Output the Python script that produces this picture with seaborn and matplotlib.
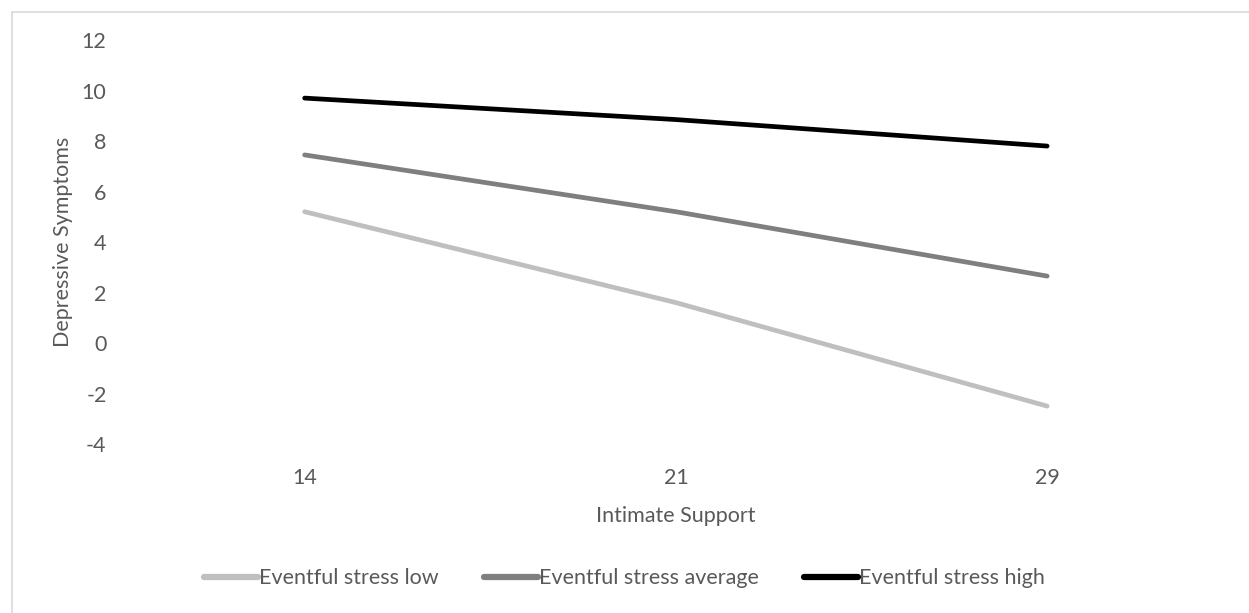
import matplotlib.pyplot as plt
import matplotlib.lines as mlines
import seaborn as sns
import pandas as pd

# Values
support = ['14', '21', '29']
stress_low = [5.2, 1.6, -2.5]
stress_average = [7.45, 5.2, 2.65]
stress_high = [9.7, 8.85, 7.8]
series_names = ['Eventful stress low', 'Eventful stress average', 'Eventful stress high']
y_ticks = [-4, -2, 0, 2, 4, 6, 8, 10, 12]

rows = []
for name, vals in zip(series_names, [stress_low, stress_average, stress_high]):
    for s, v in zip(support, vals):
        rows.append({'Intimate Support': s, 'Depressive Symptoms': v, 'series': name})
df = pd.DataFrame(rows)

sns.set_style('white')
plt.rcParams['font.family'] = ['Lato', 'DejaVu Sans']
text_color = '#595959'
fs = 15.5
colors = {'Eventful stress low': '#BFBFBF',
          'Eventful stress average': '#7F7F7F',
          'Eventful stress high': '#000000'}

fig = plt.figure(figsize=(12.49, 6.13), dpi=100)
ax = fig.add_axes([0.0953, 0.2757, 0.8917, 0.659])

sns.lineplot(data=df, x='Intimate Support', y='Depressive Symptoms', hue='series',
             palette=colors, linewidth=3.4, ax=ax, legend=False, sort=False)

ax.set_xlim(-0.5, 2.5)
ax.set_ylim(-4, 12)
ax.set_yticks(y_ticks)
ax.set_yticklabels([str(t) for t in y_ticks])
ax.tick_params(axis='both', length=0, labelsize=fs, labelcolor=text_color)
ax.tick_params(axis='x', pad=17)
ax.tick_params(axis='y', pad=9)
for sp in ax.spines.values():
    sp.set_visible(False)
ax.set_xlabel('Intimate Support', fontsize=fs, color=text_color, labelpad=13)
ax.set_ylabel('Depressive Symptoms', fontsize=fs, color=text_color, labelpad=6)

# Legend at the bottom, Excel style
handles = [mlines.Line2D([], [], color=colors[n], linewidth=4.5, solid_capstyle='round')
           for n in series_names]
fig.legend(handles, series_names, loc='center', bbox_to_anchor=(0.5, 0.057), ncol=3,
           frameon=False, fontsize=fs, labelcolor=text_color, handlelength=2.5,
           handletextpad=0.05, columnspacing=2.1)

# Chart area border (only top and left visible in crop)
fig.add_artist(mlines.Line2D([0.0093, 0.0093], [0, 1 - 11.5 / 613], transform=fig.transFigure,
                             color='#D9D9D9', linewidth=1.2))
fig.add_artist(mlines.Line2D([0.0093, 1], [1 - 11.5 / 613, 1 - 11.5 / 613], transform=fig.transFigure,
                             color='#D9D9D9', linewidth=1.2))

fig.savefig('out.png', dpi=100)
